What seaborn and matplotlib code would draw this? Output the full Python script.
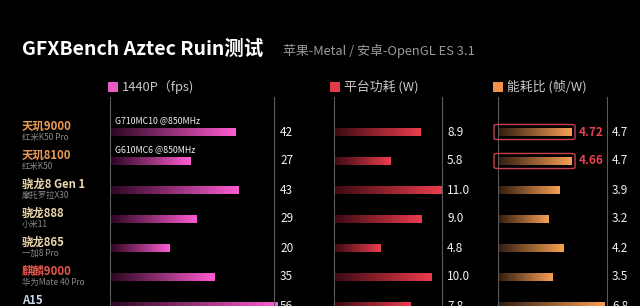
import numpy as np
import pandas as pd
import matplotlib
matplotlib.use("Agg")
import matplotlib.pyplot as plt
import seaborn as sns
from matplotlib.colors import LinearSegmentedColormap
from matplotlib.patches import Rectangle, FancyBboxPatch

chips = ["天玑9000", "天玑8100", "骁龙8 Gen 1", "骁龙888", "骁龙865", "麒麟9000", "A15"]
devices = ["红米K50 Pro", "红米K50", "摩托罗拉X30", "小米11", "一加8 Pro", "华为Mate 40 Pro", ""]
chip_colors = ["#eb9a52", "#eb9a52", "#ecd7ae", "#ecd7ae", "#ecd7ae", "#e8584c", "#c9d6ee"]
fps = [42, 27, 43, 29, 20, 35, 56]
power = [8.9, 5.8, 11.0, 9.0, 4.8, 10.0, 7.8]
efficiency = [4.7, 4.7, 3.9, 3.2, 4.2, 3.5, 6.8]
eff_precise = ["4.72", "4.66"]
gpu_notes = ["G710MC10 @850MHz", "G610MC6 @850MHz"]
legend_labels = ["1440P（fps)", "平台功耗 (W)", "能耗比 (帧/W)"]
title = "GFXBench Aztec Ruin测试"
subtitle = "苹果-Metal / 安卓-OpenGL ES 3.1"

sns.set_style("dark")
plt.rcParams["font.family"] = ["Noto Sans CJK SC", "DejaVu Sans"]

W, H = 640, 306
fig = plt.figure(figsize=(6.4, 3.06), dpi=100, facecolor="black")

def px_axes(x0, x1, y0, y1):
    return fig.add_axes([x0 / W, 1 - y1 / H, (x1 - x0) / W, (y1 - y0) / H])

row0, step = 132, 29.0
ytop, ybot = 97, 306
ylim = ((ybot - row0) / step, -(row0 - ytop) / step)

df = pd.DataFrame({"chip": chips, "fps": fps, "power": power, "eff": efficiency})

panels = [
    dict(col="fps", x0=110, x1=274, xmax=54.7, bright="#ff5cd2", dark="#2a0620", lab_x=280,
         labels=[str(v) for v in fps]),
    dict(col="power", x0=334, x1=442, xmax=11.05, bright="#ec3c4c", dark="#3a0a12", lab_x=447,
         labels=[f"{v:.1f}" for v in power]),
    dict(col="eff", x0=498, x1=607, xmax=6.95, bright="#f8a052", dark="#301c10", lab_x=612,
         labels=[f"{v:.1f}" for v in efficiency]),
]

axes = []
for p in panels:
    ax = px_axes(p["x0"], p["x1"], ytop, ybot)
    ax.set_facecolor("black")
    sns.barplot(data=df, x=p["col"], y="chip", orient="h", ax=ax, width=8 / step,
                color=p["bright"], edgecolor="none")
    cmap = LinearSegmentedColormap.from_list("g", [p["dark"], p["bright"]])
    grad = np.linspace(0, 1, 256).reshape(1, -1)
    for patch in ax.patches:
        bx, by = patch.get_x(), patch.get_y()
        bw, bh = patch.get_width(), patch.get_height()
        patch.set_facecolor("none")
        im = ax.imshow(grad, cmap=cmap, aspect="auto", extent=[bx, bx + bw, by + bh, by],
                       interpolation="bilinear", zorder=2)
        im.set_clip_path(patch)
    ax.set_xlim(0, p["xmax"])
    ax.set_ylim(*ylim)
    ax.set_xticks([])
    ax.set_yticks([])
    ax.set_xlabel("")
    ax.set_ylabel("")
    ax.grid(False)
    for s in ["top", "bottom"]:
        ax.spines[s].set_visible(False)
    for s in ["left", "right"]:
        ax.spines[s].set_visible(True)
        ax.spines[s].set_color("#5a5a5a")
        ax.spines[s].set_linewidth(0.8)
    tr = ax.get_yaxis_transform()
    lx = (p["lab_x"] - p["x0"]) / (p["x1"] - p["x0"])
    for i, lab in enumerate(p["labels"]):
        ax.text(lx, i, lab, transform=tr, color="#f2f2f2", fontsize=8.5,
                va="center", ha="left", clip_on=False)
    axes.append(ax)

# row labels and GPU notes on first panel
ax1 = axes[0]
tr1 = ax1.get_yaxis_transform()
lxc = (22 - 110) / 164
for i, (c, d, col) in enumerate(zip(chips, devices, chip_colors)):
    ax1.text(lxc, i - 0.2, c, transform=tr1, color=col, fontsize=8.2, fontweight="bold",
             va="center", ha="left", clip_on=False)
    if d:
        ax1.text(lxc, i + 0.19, d, transform=tr1, color="#8a8a8a", fontsize=6,
                 va="center", ha="left", clip_on=False)
for i, note in enumerate(gpu_notes):
    ax1.text((115 - 110) / 164, i - 0.38, note, transform=tr1, color="#f0f0f0",
             fontsize=6.3, va="center", ha="left", clip_on=False)

# highlight boxes on efficiency panel
ax3 = axes[2]
tr3 = ax3.get_yaxis_transform()
for i, txt in enumerate(eff_precise):
    bx0 = (494 - 498) / 109
    bw = (575 - 494) / 109
    box = FancyBboxPatch((bx0, i - 0.26), bw, 0.52, boxstyle="round,pad=0,rounding_size=0.04",
                         transform=tr3, facecolor="none", edgecolor="#c8404e",
                         linewidth=1.0, clip_on=False, zorder=3)
    ax3.add_patch(box)
    ax3.text((604 - 498) / 109, i, txt, transform=tr3, color="#e8404e", fontsize=8.5,
             fontweight="bold", va="center", ha="right", clip_on=False)

# title and subtitle
fig.text(22 / W, 1 - 49 / H, title, color="white", fontsize=14, fontweight="bold",
         va="center", ha="left")
fig.text(283 / W, 1 - 51 / H, subtitle, color="#9a9a9a", fontsize=9.3, va="center", ha="left")

# legend
leg_x = [108, 330, 493]
leg_c = ["#ec5ac4", "#e23c4a", "#f0914c"]
for x, c, lab in zip(leg_x, leg_c, legend_labels):
    fig.patches.append(Rectangle((x / W, 1 - 92 / H), 10 / W, 10 / H, transform=fig.transFigure,
                                 facecolor=c, edgecolor="none", figure=fig))
    fig.text((x + 14) / W, 1 - 87 / H, lab, color="#c8c8c8", fontsize=9.3, va="center", ha="left")

fig.savefig("out.png", dpi=100, facecolor="black")
